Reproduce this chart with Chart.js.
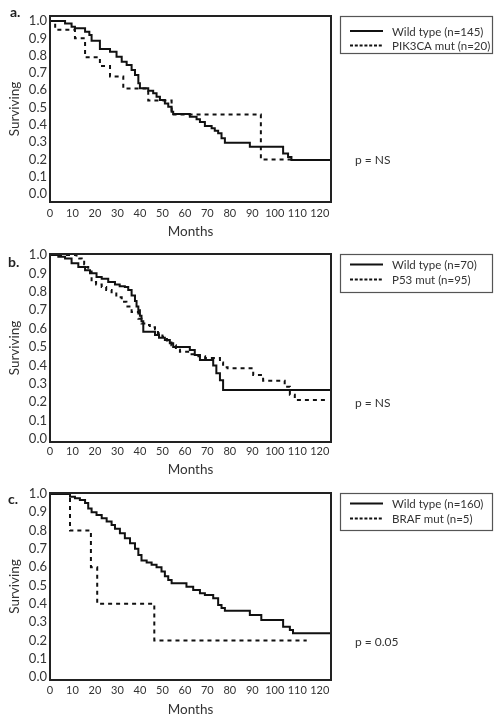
<!DOCTYPE html>
<html>
<head>
<meta charset="utf-8">
<script src="https://cdn.jsdelivr.net/npm/chart.js@4.4.1/dist/chart.umd.min.js"></script>
<style>
  body { margin: 0; background: #fff; width: 503px; height: 725px; position: relative; overflow: hidden; }
  .panel { position: absolute; left: 0; width: 503px; }
  canvas { display: block; }
</style>
</head>
<body>
<div class="panel" style="top:0px"><canvas id="chartA" width="503" height="240"></canvas></div>
<div class="panel" style="top:240px"><canvas id="chartB" width="503" height="240"></canvas></div>
<div class="panel" style="top:480px"><canvas id="chartC" width="503" height="245"></canvas></div>
<script>
// tick labels
const monthTicks = [0, 10, 20, 30, 40, 50, 60, 70, 80, 90, 100, 110, 120];
const survTicks = [0, 0.1, 0.2, 0.3, 0.4, 0.5, 0.6, 0.7, 0.8, 0.9, 1.0];

// a. PIK3CA
const aWildMonths = [0, 6.7, 9.6, 11.1, 15.6, 17.5, 18.5, 22.2, 26.7, 29.6, 31.9, 34.1, 36.3, 37.8, 39.3, 40, 43.7, 45.9, 47.4, 48.9, 51.1, 52.6, 54.1, 54.8, 62.2, 65.2, 66.7, 68.9, 71.9, 73.3, 74.8, 76.3, 77.8, 88.9, 103.7, 105.9, 107.4, 125];
const aWildSurv = [1.0, 0.986, 0.967, 0.958, 0.938, 0.919, 0.886, 0.838, 0.823, 0.794, 0.765, 0.746, 0.717, 0.688, 0.640, 0.611, 0.597, 0.582, 0.563, 0.543, 0.524, 0.505, 0.476, 0.462, 0.447, 0.432, 0.416, 0.393, 0.380, 0.366, 0.351, 0.322, 0.297, 0.274, 0.235, 0.214, 0.197, 0.197];
const aMutMonths = [0, 2.3, 11.1, 15.6, 22.2, 26.7, 32.6, 43.7, 54.1, 93.8, 107.5];
const aMutSurv = [1.0, 0.95, 0.90, 0.79, 0.74, 0.68, 0.61, 0.54, 0.46, 0.20, 0.20];

// b. P53
const bWildMonths = [0, 3.7, 6.7, 9.6, 12.6, 15.6, 17.8, 20.7, 23, 25.9, 28.9, 31, 33.3, 34.8, 36.3, 37.8, 38.5, 39.3, 40, 40.7, 41.5, 46.7, 48.5, 51.1, 53.3, 54.8, 62.2, 64.4, 66.7, 72.6, 74, 75.6, 77, 125];
const bWildSurv = [1.0, 0.99, 0.98, 0.955, 0.935, 0.917, 0.90, 0.88, 0.87, 0.853, 0.84, 0.83, 0.826, 0.81, 0.78, 0.75, 0.72, 0.70, 0.67, 0.64, 0.583, 0.565, 0.55, 0.538, 0.52, 0.50, 0.484, 0.457, 0.43, 0.40, 0.357, 0.32, 0.266, 0.266];
const bMutMonths = [0, 11.8, 13, 14.1, 15.2, 16.3, 17, 18.5, 20.5, 23, 25, 27.4, 29.5, 31.9, 34, 36.3, 39.3, 40.7, 43, 44.4, 46.7, 48, 50, 52, 54, 56, 57.8, 62.2, 66, 69, 75.6, 77, 79, 90.4, 94.8, 104.4, 106.7, 108.9, 123];
const bMutSurv = [1.0, 0.99, 0.98, 0.97, 0.95, 0.935, 0.91, 0.853, 0.84, 0.826, 0.81, 0.79, 0.77, 0.745, 0.72, 0.69, 0.654, 0.627, 0.62, 0.607, 0.596, 0.575, 0.555, 0.535, 0.51, 0.485, 0.474, 0.46, 0.45, 0.44, 0.416, 0.39, 0.384, 0.348, 0.317, 0.284, 0.24, 0.212, 0.212];

// c. BRAF
const cWildMonths = [0, 8.9, 11.1, 13.3, 15.6, 17, 18.5, 20.7, 23, 25.2, 27.4, 28.9, 31.1, 33.3, 35.6, 37.8, 39.3, 40.7, 43, 45.2, 47.4, 49.6, 51.1, 52.6, 54.1, 60.7, 63.7, 66.7, 68.9, 72.6, 74.8, 76.3, 77.8, 88.9, 94, 103.7, 106.7, 108.1, 125];
const cWildSurv = [1.0, 0.985, 0.976, 0.967, 0.95, 0.92, 0.90, 0.885, 0.867, 0.85, 0.83, 0.81, 0.785, 0.758, 0.73, 0.70, 0.667, 0.636, 0.625, 0.613, 0.60, 0.576, 0.55, 0.53, 0.512, 0.493, 0.475, 0.457, 0.448, 0.43, 0.393, 0.377, 0.362, 0.339, 0.311, 0.275, 0.257, 0.239, 0.239];
const cMutMonths = [0, 8.9, 18.2, 21, 46.4, 114.2];
const cMutSurv = [1.0, 0.8, 0.6, 0.4, 0.2, 0.2];

const textColor = '#333';
const fontFamily = 'Lato, "Open Sans", sans-serif';
Chart.defaults.font.family = fontFamily;

function toPoints(months, surv) {
    return months.map((m, i) => ({ x: m, y: surv[i] }));
}

// frame, legend box, p value and panel letter
const framePlugin = {
    id: 'frame',
    afterDraw(chart, args, o) {
        const ctx = chart.ctx;
        const a = chart.chartArea;
        ctx.save();
        ctx.setLineDash([]);
        ctx.lineWidth = 2;
        ctx.strokeStyle = '#222';
        ctx.strokeRect(a.left, a.top, a.right - a.left, a.bottom - a.top);

        ctx.lineWidth = 1.2;
        ctx.strokeStyle = '#555';
        ctx.strokeRect(340.5, o.legendY + 0.5, 152, o.legendH);

        ctx.font = '11.5px ' + fontFamily;
        ctx.textBaseline = 'middle';
        ctx.fillStyle = textColor;
        chart.data.datasets.forEach((ds, i) => {
            const y = o.rowY[i];
            ctx.beginPath();
            ctx.lineWidth = 2;
            ctx.strokeStyle = ds.borderColor;
            ctx.setLineDash(i ? [3, 1.8] : []);
            ctx.moveTo(350, y);
            ctx.lineTo(383, y);
            ctx.stroke();
            ctx.fillText(ds.label, 392, y + 1);
        });
        ctx.setLineDash([]);
        ctx.font = '12px ' + fontFamily;
        ctx.fillText(o.pText, 355, o.pY);

        ctx.font = 'bold 14px ' + fontFamily;
        ctx.fillStyle = '#222';
        ctx.fillText(o.letter, o.letterX, o.letterY);
        ctx.restore();
    }
};

function makeChart(id, p) {
    const canvas = document.getElementById(id);
    const h = canvas.height;
    return new Chart(canvas, {
        type: 'line',
        data: {
            datasets: [{
                label: p.labels[0],
                data: toPoints(p.wildMonths, p.wildSurv),
                stepped: 'before',
                borderColor: '#111',
                borderWidth: 2,
                pointRadius: 0,
                fill: false
            }, {
                label: p.labels[1],
                data: toPoints(p.mutMonths, p.mutSurv),
                stepped: 'before',
                borderColor: '#111',
                borderWidth: 2,
                borderDash: [4, 4],
                pointRadius: 0,
                fill: false
            }]
        },
        options: {
            responsive: false,
            animation: false,
            layout: { padding: { top: p.boxTop, right: 172, left: 0, bottom: 0 } },
            plugins: {
                legend: { display: false },
                tooltip: { enabled: false },
                frame: p.frame
            },
            scales: {
                x: {
                    type: 'linear',
                    min: 0,
                    max: 125,
                    grid: { display: false, drawTicks: false },
                    border: { display: false },
                    afterBuildTicks: s => { s.ticks = monthTicks.map(v => ({ value: v })); },
                    afterFit: s => { s.height = h - p.boxBottom; s.paddingLeft = 0; s.paddingRight = 0; },
                    ticks: {
                        autoSkip: false,
                        maxRotation: 0,
                        padding: p.tickPad,
                        color: textColor,
                        font: { size: 11 }
                    },
                    title: {
                        display: true,
                        text: 'Months',
                        color: textColor,
                        font: { size: 13.5 },
                        padding: { top: 0, bottom: p.titlePad }
                    }
                },
                y: {
                    type: 'linear',
                    min: p.yMin,
                    max: p.yMax,
                    grid: { display: false, drawTicks: false },
                    border: { display: false },
                    afterBuildTicks: s => { s.ticks = survTicks.map(v => ({ value: v })); },
                    afterFit: s => { s.width = 50; s.paddingTop = 0; s.paddingBottom = 0; },
                    ticks: {
                        autoSkip: false,
                        padding: 3,
                        color: textColor,
                        font: { size: 13 },
                        callback: v => v.toFixed(1)
                    },
                    title: {
                        display: true,
                        text: 'Surviving',
                        color: textColor,
                        font: { size: 13.5 },
                        padding: { top: 7, bottom: 0 }
                    }
                }
            }
        },
        plugins: [framePlugin]
    });
}

makeChart('chartA', {
    labels: ['Wild type (n=145)', 'PIK3CA mut (n=20)'],
    wildMonths: aWildMonths, wildSurv: aWildSurv,
    mutMonths: aMutMonths, mutSurv: aMutSurv,
    boxTop: 16, boxBottom: 202, yMin: -0.046, yMax: 1.029,
    tickPad: 5, titlePad: 0,
    frame: { legendY: 16, legendH: 37, rowY: [31, 45.5], pText: 'p = NS', pY: 160, letter: 'a.', letterX: 10, letterY: 12.5 }
});

makeChart('chartB', {
    labels: ['Wild type (n=70)', 'P53 mut (n=95)'],
    wildMonths: bWildMonths, wildSurv: bWildSurv,
    mutMonths: bMutMonths, mutSurv: bMutSurv,
    boxTop: 14, boxBottom: 202, yMin: -0.016, yMax: 1.005,
    tickPad: 3, titlePad: 2,
    frame: { legendY: 14, legendH: 38, rowY: [24.5, 39.5], pText: 'p = NS', pY: 163, letter: 'b.', letterX: 8, letterY: 22 }
});

makeChart('chartC', {
    labels: ['Wild type (n=160)', 'BRAF mut (n=5)'],
    wildMonths: cWildMonths, wildSurv: cWildSurv,
    mutMonths: cMutMonths, mutSurv: cMutSurv,
    boxTop: 13, boxBottom: 200, yMin: -0.016, yMax: 1.005,
    tickPad: 4, titlePad: 7,
    frame: { legendY: 13, legendH: 37, rowY: [23.5, 38.5], pText: 'p = 0.05', pY: 162, letter: 'c.', letterX: 8, letterY: 19 }
});
</script>
</body>
</html>
